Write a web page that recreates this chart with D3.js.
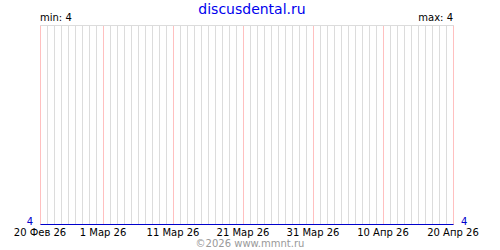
<!DOCTYPE html>
<html>
<head>
<meta charset="utf-8">
<script src="https://cdn.jsdelivr.net/npm/d3@7"></script>
<style>
  body { margin: 0; background: #fff; }
  svg { display: block; }
  text { font-family: "DejaVu Sans", Verdana, sans-serif; }
</style>
</head>
<body>
<script>
// chart data
const startDate = "2026-02-20";
const endDate = "2026-04-20";
const values = [
  4, 4, 4, 4, 4, 4, 4, 4, 4, 4,
  4, 4, 4, 4, 4, 4, 4, 4, 4, 4,
  4, 4, 4, 4, 4, 4, 4, 4, 4, 4,
  4, 4, 4, 4, 4, 4, 4, 4, 4, 4,
  4, 4, 4, 4, 4, 4, 4, 4, 4, 4,
  4, 4, 4, 4, 4, 4, 4, 4, 4, 4
];
const tickLabels = ["20 Фев 26", "1 Мар 26", "11 Мар 26", "21 Мар 26", "31 Мар 26", "10 Апр 26", "20 Апр 26"];
const tickDates = ["2026-02-20", "2026-03-01", "2026-03-11", "2026-03-21", "2026-03-31", "2026-04-10", "2026-04-20"];
const title = "discusdental.ru";
const footer = "©2026 www.mmnt.ru";

const width = 500, height = 250;
const margin = { top: 25, right: 47, bottom: 25, left: 40 };

const parse = d3.utcParse("%Y-%m-%d");
const days = d3.utcDay.range(parse(startDate), d3.utcDay.offset(parse(endDate), 1));
const series = days.map((d, i) => ({ date: d, value: values[i] }));

const minV = d3.min(values), maxV = d3.max(values);

const x = d3.scaleUtc()
  .domain([parse(startDate), parse(endDate)])
  .range([margin.left, width - margin.right]);

const y = d3.scaleLinear()
  .domain([minV, maxV > minV ? maxV : minV + 1])
  .range([height - margin.bottom, margin.top]);

const svg = d3.select("body").append("svg")
  .attr("width", width)
  .attr("height", height);

// daily grid lines
const majorSet = new Set(tickDates);
svg.append("g")
  .selectAll("line")
  .data(days)
  .join("line")
  .attr("x1", d => Math.round(x(d)) + 0.5)
  .attr("x2", d => Math.round(x(d)) + 0.5)
  .attr("y1", margin.top)
  .attr("y2", height - margin.bottom)
  .attr("stroke", d => majorSet.has(d3.utcFormat("%Y-%m-%d")(d)) ? "#ffc0c0" : "#dcdcdc")
  .attr("stroke-width", 1);

// top border
svg.append("line")
  .attr("x1", margin.left)
  .attr("x2", width - margin.right + 1)
  .attr("y1", margin.top + 0.5)
  .attr("y2", margin.top + 0.5)
  .attr("stroke", "#dcdcdc");

// data line
const line = d3.line()
  .x(d => Math.round(x(d.date)) + 0.5)
  .y(d => Math.round(y(d.value)) - 0.5);

svg.append("path")
  .datum(series)
  .attr("d", line)
  .attr("fill", "none")
  .attr("stroke", "#0000cc")
  .attr("stroke-width", 1.2);

// x labels
svg.append("g")
  .selectAll("text")
  .data(tickDates)
  .join("text")
  .attr("x", d => x(parse(d)))
  .attr("y", 236)
  .attr("text-anchor", "middle")
  .style("font-size", "10px")
  .style("fill", "#000")
  .text((d, i) => tickLabels[i]);

// min / max labels
svg.append("text")
  .attr("x", margin.left)
  .attr("y", 21)
  .style("font-size", "10px")
  .text(`min: ${minV}`);

svg.append("text")
  .attr("x", width - margin.right)
  .attr("y", 21)
  .attr("text-anchor", "end")
  .style("font-size", "10px")
  .text(`max: ${maxV}`);

// value labels at ends of line
svg.append("text")
  .attr("x", 33)
  .attr("y", y(values[0]))
  .attr("text-anchor", "end")
  .style("font-size", "10px")
  .style("fill", "#0000cc")
  .text(values[0]);

svg.append("text")
  .attr("x", 461)
  .attr("y", y(values[values.length - 1]))
  .attr("text-anchor", "start")
  .style("font-size", "10px")
  .style("fill", "#0000cc")
  .text(values[values.length - 1]);

// title
svg.append("text")
  .attr("x", 252)
  .attr("y", 14)
  .attr("text-anchor", "middle")
  .style("font-size", "14px")
  .style("fill", "#0000ee")
  .text(title);

// footer
svg.append("text")
  .attr("x", 250)
  .attr("y", 247)
  .attr("text-anchor", "middle")
  .style("font-size", "10px")
  .style("fill", "#999")
  .text(footer);
</script>
</body>
</html>
